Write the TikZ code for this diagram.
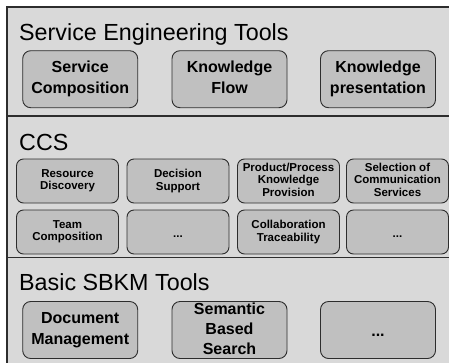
\documentclass[tikz,border=0pt]{standalone}
\usepackage{fontspec}
\setmainfont{Liberation Sans}
\begin{document}
\definecolor{panelbg}{RGB}{217,217,217}
\definecolor{boxfill}{RGB}{192,192,192}
\definecolor{edge}{RGB}{45,45,45}
\begin{tikzpicture}[x=1pt,y=-1pt,
  paneltitle/.style={anchor=base west,inner sep=0pt,font=\fontsize{23.3}{28}\selectfont},
  % struts keep the first baseline and last depth the same in every box
  bigtool/.style={draw=edge,line width=0.9pt,fill=boxfill,rounded corners=8pt,
    minimum width=115pt,minimum height=57pt,inner sep=0pt,align=center,
    font=\fontsize{16}{21}\selectfont\bfseries,
    execute at begin node={\rule{0pt}{16pt}},
    execute at end node={\rule[-3.4pt]{0pt}{0pt}}},
  smalltool/.style={draw=edge,line width=0.9pt,fill=boxfill,rounded corners=7pt,
    minimum width=102pt,minimum height=44pt,inner sep=0pt,align=center,
    font=\fontsize{11.5}{12.3}\selectfont\bfseries,
    execute at begin node={\rule{0pt}{12.7pt}},
    execute at end node={\rule[-2.4pt]{0pt}{0pt}}},
  divider/.style={draw=edge,line width=1.4pt}]
\useasboundingbox (0,0) rectangle (449,362);
\clip (0,0) rectangle (449,362);
% outer frame, its right and bottom sides run past the page edge
\fill[panelbg] (7,7) rectangle (460,370);
\draw[divider] (7,370) -- (7,7) -- (460,7);
\coordinate (d1l) at (7,116);  \coordinate (d1r) at (460,116);
\coordinate (d2l) at (7,257.5);  \coordinate (d2r) at (460,257.5);
\draw[divider] (d1l) -- (d1r);
\draw[divider] (d2l) -- (d2r);

% Service Engineering Tools
\node[paneltitle] (set) at (19,40.5) {Service Engineering Tools};
\node[bigtool] (sc) at (80.2,79.2) {Service\\Composition};
\node[bigtool] (kf) at (229.5,79.2) {Knowledge\\Flow};
\node[bigtool] (kp) at (378,79.2) {Knowledge\\presentation};

% CCS
\node[paneltitle] (ccs) at (19,150) {CCS};
\node[smalltool] (rd) at (67.5,181) {Resource\\Discovery};
\node[smalltool] (ds) at (178,181) {Decision\\Support};
\node[smalltool] (pk) at (288.5,181) {Product/Process\\Knowledge\\Provision};
\node[smalltool] (sel) at (397.5,181) {Selection of\\Communication\\Services};
\node[smalltool] (tc) at (67.5,232) {Team\\Composition};
\node[smalltool] (m1) at (178,232) {...};
\node[smalltool] (ct) at (288.5,232) {Collaboration\\Traceability};
\node[smalltool] (m2) at (397.5,232) {...};

% Basic SBKM Tools
\node[paneltitle] (sbkm) at (19,290) {Basic SBKM Tools};
\node[bigtool] (dm) at (80.2,330) {Document\\Management};
\node[bigtool,font=\fontsize{16}{20}\selectfont\bfseries] (sbs) at (229.5,330) {Semantic\\Based\\Search};
\node[bigtool] (m3) at (378,330) {...};
\end{tikzpicture}
\end{document}
